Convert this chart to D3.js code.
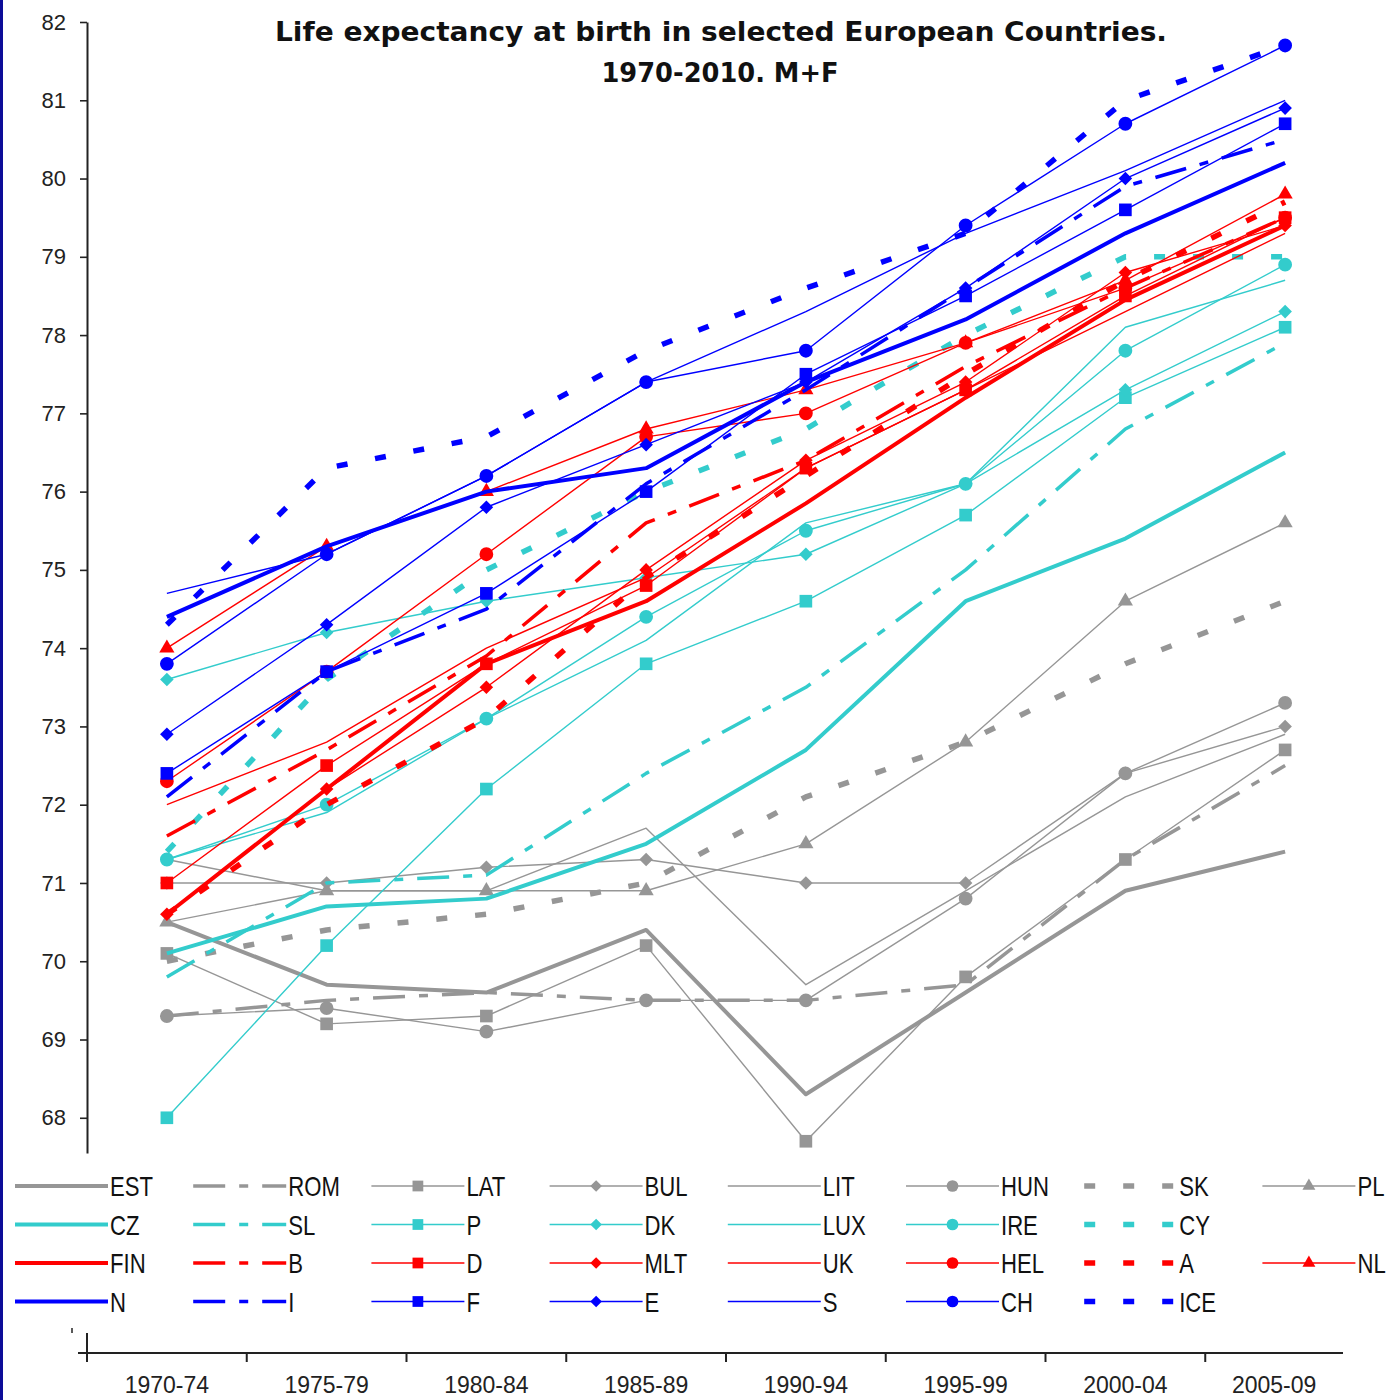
<!DOCTYPE html>
<html>
<head>
<meta charset="utf-8">
<script src="https://cdn.jsdelivr.net/npm/d3@7"></script>
<style>
  body { margin: 0; background: #fff; }
  svg { display: block; }
</style>
</head>
<body>
<svg id="chart" width="1392" height="1400"></svg>
<script>
// periods on the x axis
const periods = ["1970-74", "1975-79", "1980-84", "1985-89", "1990-94", "1995-99", "2000-04", "2005-09"];
const yTicks = [68, 69, 70, 71, 72, 73, 74, 75, 76, 77, 78, 79, 80, 81, 82];

// grey countries
const est = [70.5, 69.7, 69.6, 70.4, 68.3, 69.6, 70.9, 71.4];
const rom = [69.3, 69.5, 69.6, 69.5, 69.5, 69.7, 71.3, 72.5];
const lat = [70.1, 69.2, 69.3, 70.2, 67.7, 69.8, 71.3, 72.7];
const bul = [71.0, 71.0, 71.2, 71.3, 71.0, 71.0, 72.4, 73.0];
const lit = [71.3, 70.9, 70.9, 71.7, 69.7, 70.9, 72.1, 72.9];
const hun = [69.3, 69.4, 69.1, 69.5, 69.5, 70.8, 72.4, 73.3];
const sk  = [70.0, 70.4, 70.6, 71.0, 72.1, 72.8, 73.8, 74.6];
const pl  = [70.5, 70.9, 70.9, 70.9, 71.5, 72.8, 74.6, 75.6];
// turquoise countries
const cz  = [70.1, 70.7, 70.8, 71.5, 72.7, 74.6, 75.4, 76.5];
const sl  = [69.8, 71.0, 71.1, 72.4, 73.5, 75.0, 76.8, 77.9];
const p   = [68.0, 70.2, 72.2, 73.8, 74.6, 75.7, 77.2, 78.1];
const dk  = [73.6, 74.2, 74.6, 74.9, 75.2, 76.1, 77.3, 78.3];
const lux = [71.3, 71.9, 73.1, 74.1, 75.6, 76.1, 78.1, 78.7];
const ire = [71.3, 72.0, 73.1, 74.4, 75.5, 76.1, 77.8, 78.9];
const cy  = [71.4, 73.6, 75.0, 76.0, 76.8, 78.0, 79.0, 79.0];
// red countries
const fin = [70.6, 72.2, 73.8, 74.6, 75.85, 77.2, 78.45, 79.4];
const b   = [71.6, 72.7, 73.9, 75.6, 76.4, 77.6, 78.6, 79.5];
const d   = [71.0, 72.5, 73.8, 74.8, 76.3, 77.3, 78.5, 79.5];
const mlt = [70.6, 72.2, 73.5, 75.0, 76.4, 77.4, 78.8, 79.4];
const uk  = [72.0, 72.8, 74.0, 74.9, 76.3, 77.3, 78.3, 79.3];
const hel = [72.3, 73.7, 75.2, 76.7, 77.0, 77.9, 78.6, 79.5];
const a   = [70.6, 72.0, 73.1, 74.9, 76.2, 77.5, 78.7, 79.7];
const nl  = [74.0, 75.3, 76.0, 76.8, 77.3, 77.9, 78.7, 79.8];
// blue countries
const n   = [74.4, 75.3, 76.0, 76.3, 77.4, 78.2, 79.3, 80.2];
const i_  = [72.1, 73.7, 74.5, 76.1, 77.3, 78.6, 79.9, 80.5];
const f   = [72.4, 73.7, 74.7, 76.0, 77.5, 78.5, 79.6, 80.7];
const e   = [72.9, 74.3, 75.8, 76.6, 77.4, 78.6, 80.0, 80.9];
const s   = [74.7, 75.2, 76.2, 77.4, 78.3, 79.3, 80.1, 81.0];
const ch  = [73.8, 75.2, 76.2, 77.4, 77.8, 79.4, 80.7, 81.7];
const ice = [74.3, 76.3, 76.7, 77.8, 78.6, 79.3, 81.0, 81.7];

// legend layout: one row per colour group, one column per line style
const legendRows = [
  [["EST", est], ["ROM", rom], ["LAT", lat], ["BUL", bul], ["LIT", lit], ["HUN", hun], ["SK", sk], ["PL", pl]],
  [["CZ", cz], ["SL", sl], ["P", p], ["DK", dk], ["LUX", lux], ["IRE", ire], ["CY", cy]],
  [["FIN", fin], ["B", b], ["D", d], ["MLT", mlt], ["UK", uk], ["HEL", hel], ["A", a], ["NL", nl]],
  [["N", n], ["I", i_], ["F", f], ["E", e], ["S", s], ["CH", ch], ["ICE", ice]]
];
const rowColors = ["#969696", "#33cccc", "#ff0000", "#0000ff"];
const colStyles = [
  {w: 4, dash: null, marker: null},
  {w: 3.5, dash: "32,14,9,14", marker: null},
  {w: 1.4, dash: null, marker: "square"},
  {w: 1.4, dash: null, marker: "diamond"},
  {w: 1.4, dash: null, marker: null},
  {w: 1.4, dash: null, marker: "circle"},
  {w: 5.5, dash: "11,28", marker: null},
  {w: 1.4, dash: null, marker: "triangle"}
];

const series = [];
legendRows.forEach((row, r) => {
  row.forEach((it, c) => {
    series.push({name: it[0], values: it[1], color: rowColors[r], style: colStyles[c], row: r, col: c});
  });
});

const svg = d3.select("#chart");
const plot = {left: 87, right: 1365, top: 22, bottom: 1153};

svg.append("rect").attr("x", 0).attr("y", 0).attr("width", 3).attr("height", 1400).attr("fill", "#0c0c98");

const x = d3.scalePoint().domain(periods).range([plot.left, plot.right]).padding(0.5);
const y = d3.scaleLinear().domain([67.55, 82]).range([plot.bottom, plot.top]);

// y axis
const yAxis = svg.append("g")
  .attr("transform", "translate(" + plot.left + ",0)")
  .call(d3.axisLeft(y).tickValues(yTicks).tickSize(7).tickSizeOuter(0).tickPadding(14).tickFormat(d3.format("d")));
yAxis.select(".domain").attr("stroke", "#222").attr("stroke-width", 2);
yAxis.selectAll(".tick line").attr("stroke", "#222").attr("stroke-width", 1.6);
yAxis.selectAll(".tick text")
  .attr("fill", "#222")
  .style("font-family", "'Liberation Sans', Arial, sans-serif")
  .style("font-size", "22px");

// title
const title = svg.append("g").attr("font-family", "'DejaVu Sans', Verdana, sans-serif").attr("font-weight", "bold").attr("font-size", 26).attr("fill", "#111").attr("text-anchor", "middle");
title.append("text").attr("x", 721).attr("y", 41)
  .attr("textLength", 892).attr("lengthAdjust", "spacingAndGlyphs")
  .text("Life expectancy at birth in selected European Countries.");
title.append("text").attr("x", 720).attr("y", 82)
  .attr("textLength", 237).attr("lengthAdjust", "spacingAndGlyphs")
  .text("1970-2010. M+F");

// markers
function markerPath(type, k) {
  if (type === "square") return d3.symbol(d3.symbolSquare, 160 * k * k)();
  if (type === "diamond") return d3.symbol(d3.symbolSquare, 92 * k * k)();
  if (type === "circle") return d3.symbol(d3.symbolCircle, 150 * k * k)();
  if (type === "triangle") return d3.symbol(d3.symbolTriangle, 100 * k * k)();
  return null;
}

const line = d3.line()
  .x((v, idx) => x(periods[idx]))
  .y(v => y(v));

const lines = svg.append("g");
series.forEach(sr => {
  const g = lines.append("g");
  g.append("path")
    .attr("d", line(sr.values))
    .attr("fill", "none")
    .attr("stroke", sr.color)
    .attr("stroke-width", sr.style.w)
    .attr("stroke-dasharray", sr.style.dash)
    .attr("stroke-linejoin", "round");
  if (sr.style.marker) {
    g.selectAll("path.mk")
      .data(sr.values)
      .enter()
      .append("path")
      .attr("class", "mk")
      .attr("d", markerPath(sr.style.marker, 1))
      .attr("transform", (v, idx) => "translate(" + x(periods[idx]) + "," + y(v) + ")" + (sr.style.marker === "diamond" ? " rotate(45)" : ""))
      .attr("fill", sr.color);
  }
});

// legend
const legend = svg.append("g");
const colX = d3.scaleLinear().domain([0, 1]).range([15, 193.2]);
const rowY = d3.scaleLinear().domain([0, 1]).range([1186, 1224.5]);
const keyLen = 93;
series.forEach(sr => {
  const x0 = colX(sr.col), y0 = rowY(sr.row);
  const g = legend.append("g");
  g.append("line")
    .attr("x1", x0).attr("x2", x0 + keyLen).attr("y1", y0).attr("y2", y0)
    .attr("stroke", sr.color)
    .attr("stroke-width", sr.style.w)
    .attr("stroke-dasharray", sr.style.dash);
  if (sr.style.marker) {
    g.append("path")
      .attr("d", markerPath(sr.style.marker, 0.85))
      .attr("transform", "translate(" + (x0 + keyLen / 2) + "," + y0 + ")" + (sr.style.marker === "diamond" ? " rotate(45)" : ""))
      .attr("fill", sr.color);
  }
  g.append("text")
    .attr("transform", "translate(" + (x0 + keyLen + 2) + "," + (y0 + 10) + ") scale(0.82,1)")
    .attr("font-family", "'Liberation Sans', Arial, sans-serif")
    .attr("font-size", 27)
    .attr("fill", "#111")
    .text(sr.name);
});

// bottom category axis (separate, as in the original)
const xb = d3.scaleBand().domain(periods).range([plot.left, plot.right]);
const axisY = 1353, axisEnd = 1343;
const bottom = svg.append("g").attr("stroke", "#222");
bottom.append("line").attr("x1", 78).attr("x2", axisEnd).attr("y1", axisY).attr("y2", axisY).attr("stroke-width", 2);
bottom.append("line").attr("x1", plot.left).attr("x2", plot.left).attr("y1", 1333).attr("y2", axisY + 9).attr("stroke-width", 2);
bottom.append("line").attr("x1", 72).attr("x2", 72).attr("y1", 1328).attr("y2", 1333).attr("stroke-width", 1.5);
bottom.selectAll("line.tk")
  .data(periods.slice(1))
  .enter()
  .append("line")
  .attr("class", "tk")
  .attr("x1", pd => xb(pd)).attr("x2", pd => xb(pd))
  .attr("y1", axisY).attr("y2", axisY + 9)
  .attr("stroke-width", 2);
svg.append("g").selectAll("text")
  .data(periods)
  .enter()
  .append("text")
  .attr("x", pd => (xb(pd) + Math.min(xb(pd) + xb.bandwidth(), axisEnd)) / 2)
  .attr("y", 1393)
  .attr("text-anchor", "middle")
  .attr("font-family", "'Liberation Sans', Arial, sans-serif")
  .attr("font-size", 23)
  .attr("fill", "#222")
  .text(pd => pd);
</script>
</body>
</html>
